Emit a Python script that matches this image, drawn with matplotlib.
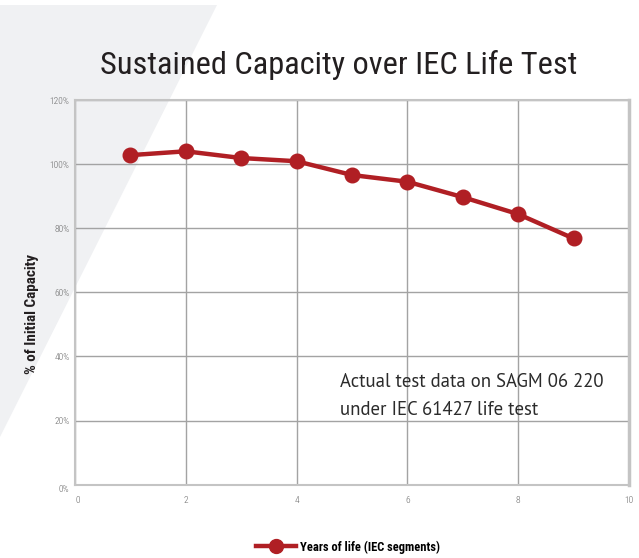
import matplotlib
matplotlib.use("Agg")
import matplotlib.pyplot as plt
from matplotlib.patches import Polygon
from matplotlib.lines import Line2D

cond = "Roboto Condensed"
myriad = "PT Sans"

years = [1, 2, 3, 4, 5, 6, 7, 8, 9]
capacity = [102.8, 104.0, 101.9, 100.9, 96.6, 94.5, 89.7, 84.4, 76.8]
x_ticks = [0, 2, 4, 6, 8, 10]
y_ticks = [0, 20, 40, 60, 80, 100, 120]
y_tick_labels = ["0%", "20%", "40%", "60%", "80%", "100%", "120%"]

W, H = 639, 558
fig = plt.figure(figsize=(W / 100, H / 100), dpi=100)
fig.patch.set_facecolor("white")

# background diagonal band
bg = Polygon([(0, 1 - 5 / H), (217 / W, 1 - 5 / H), (0, 1 - 437 / H)],
             closed=True, transform=fig.transFigure, facecolor="#f0f1f3",
             edgecolor="none", zorder=-10)
fig.patches.append(bg)

ax = fig.add_axes([75 / W, 1 - 484.7 / H, 554 / W, 384.7 / H])
ax.set_zorder(1)
ax.patch.set_alpha(0)
red = "#b01f24"
ax.plot(years, capacity, color=red, lw=3.2, marker="o", markersize=10.5,
        zorder=3, clip_on=False)
ax.set_xlim(0, 10)
ax.set_ylim(0, 120)
ax.set_xticks(x_ticks)
ax.set_yticks(y_ticks)
ax.set_yticklabels(y_tick_labels)
ax.grid(True, color="#a3a3a3", lw=1.0)
ax.set_axisbelow(True)
for s in ax.spines.values():
    s.set_color("#c4c4c4")
    s.set_linewidth(1.5)
ax.spines["right"].set_linewidth(2.5)
ax.tick_params(length=0, labelsize=6.8, labelcolor="#6a6a6a", pad=8)
ax.tick_params(axis="y", pad=4)
for lab in ax.get_xticklabels() + ax.get_yticklabels():
    lab.set_family(cond)
    lab.set_fontweight("light")
ax.get_yticklabels()[0].set_va("top")
ax.get_xticklabels()[0].set_ha("left")

fig.text(339 / W, 1 - 65 / H, "Sustained Capacity over IEC Life Test",
         ha="center", va="center", fontsize=23.3, family=cond, color="#231f20")
fig.text(32 / W, 1 - 314 / H, "% of Initial Capacity", rotation=90,
         ha="center", va="center", fontsize=11, fontweight="bold",
         family=cond, color="#231f20")
fig.text(340 / W, 1 - 382 / H, "Actual test data on SAGM 06 220",
         ha="left", va="center", fontsize=13.5, family=myriad, color="#2b2b2b")
fig.text(340 / W, 1 - 410 / H, "under IEC 61427 life test",
         ha="left", va="center", fontsize=13.5, family=myriad, color="#2b2b2b")

handle = Line2D([], [], color=red, lw=3.2, marker="o", markersize=10)
fig.legend([handle], ["Years of life (IEC segments)"], loc="center",
           bbox_to_anchor=(348 / W, 1 - 547 / H), frameon=False,
           prop={"family": cond, "weight": "bold", "size": 9},
           handlelength=3.2, handletextpad=0.3)

fig.savefig("out.png", dpi=100, facecolor="white")
